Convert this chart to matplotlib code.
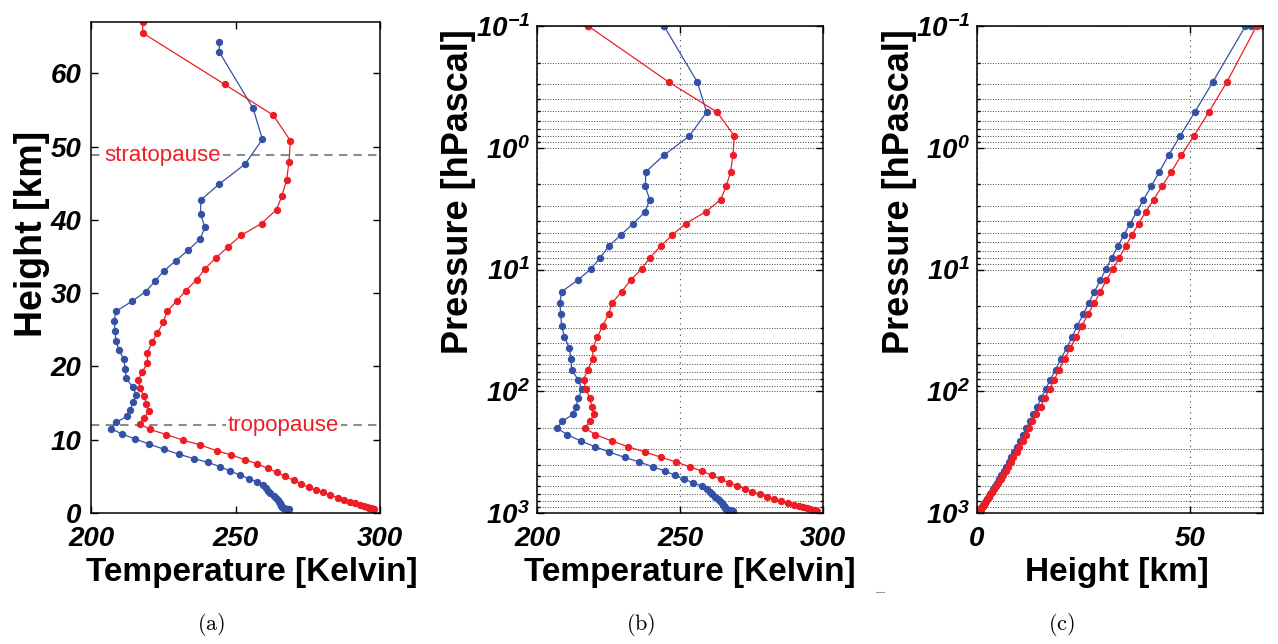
import matplotlib
matplotlib.use('Agg')
import matplotlib.pyplot as plt
from matplotlib.ticker import FixedLocator, FixedFormatter, NullFormatter

plt.rcParams['font.family'] = ['Liberation Sans', 'DejaVu Sans']
plt.rcParams['axes.unicode_minus'] = False
plt.rcParams['mathtext.default'] = 'regular'

# ---------------- data ----------------
pressure_hpa = [0.1, 0.1, 0.29, 0.51, 0.80, 1.15, 1.58, 2.08, 2.67, 3.36, 4.19, 5.20, 6.44, 7.98, 9.89,
                12.26, 15.19, 18.81, 23.31, 28.88, 35.78, 44.33, 54.62, 66.62, 80.36, 95.71,
                113, 134, 155, 177, 201, 227, 256, 285, 315, 349, 381, 417, 452, 490, 529, 564, 600,
                631, 668, 702, 734, 771, 801, 832, 858, 880, 898, 913, 926, 936, 944, 950, 954, 957, 959]

red_temp_k = [217.9, 217.9, 246.2, 263.0, 269.0, 268.5, 267.7, 266.1, 264.2, 259.0, 252.0, 247.3, 243.2,
              239.5, 236.6, 232.7, 229.6, 226.3, 225.0, 223.0, 221.1, 219.5, 219.5, 217.7, 216.3, 217.0,
              218.4, 219.2, 219.9, 218.5, 216.8, 220.4, 226.1, 231.8, 237.7, 243.5, 248.6, 253.4, 257.6,
              261.1, 264.3, 267.3, 270.1, 272.7, 275.3, 277.8, 280.3, 282.8, 285.3, 287.6, 289.7, 291.5,
              293.1, 294.4, 295.4, 296.2, 296.8, 297.2, 297.5, 297.7, 297.9]

red_height_km = [67.0, 65.5, 58.5, 54.3, 50.8, 47.9, 45.5, 43.3, 41.4, 39.5, 37.9, 36.3, 34.8, 33.35,
                 31.85, 30.3, 28.9, 27.5, 26.0, 24.6, 23.3, 21.8, 20.5, 19.2, 18.1, 17.0, 15.9, 14.9,
                 13.9, 13.0, 12.2, 11.4, 10.7, 9.95, 9.3, 8.5, 7.9, 7.25, 6.7, 6.1, 5.55, 5.0, 4.45,
                 4.0, 3.5, 3.15, 2.8, 2.45, 2.1, 1.8, 1.55, 1.33, 1.14, 0.98, 0.85, 0.75, 0.67, 0.61,
                 0.56, 0.52, 0.49]

blue_temp_k = [244.4, 244.4, 256.1, 259.3, 253.3, 244.4, 238.0, 237.9, 239.4, 237.8, 233.7, 229.3, 225.1,
               222.1, 218.9, 214.2, 208.6, 208.0, 208.3, 208.6, 209.6, 211.3, 211.9, 212.1, 214.4, 215.7,
               214.5, 213.6, 212.5, 208.8, 207.0, 210.6, 215.3, 220.2, 225.2, 230.6, 235.8, 240.5, 244.8,
               248.2, 251.5, 254.6, 257.6, 259.6, 260.5, 261.3, 262.1, 263.2, 264.0, 264.7, 265.1, 265.4,
               265.6, 265.8, 266.1, 266.5, 266.9, 267.4, 267.8, 268.2, 268.6]

blue_height_km = [64.3, 62.9, 55.2, 51.0, 47.6, 44.9, 42.7, 40.8, 39.0, 37.4, 35.9, 34.4, 33.0, 31.6,
                  30.2, 28.9, 27.5, 26.2, 24.9, 23.5, 22.3, 21.0, 19.6, 18.4, 17.2, 16.1, 15.1, 14.1,
                  13.2, 12.4, 11.5, 10.8, 10.1, 9.4, 8.7, 8.0, 7.4, 6.9, 6.3, 5.7, 5.2, 4.7, 4.2,
                  3.8, 3.4, 3.05, 2.7, 2.35, 2.05, 1.75, 1.5, 1.3, 1.12, 0.97, 0.85, 0.75, 0.67, 0.61,
                  0.57, 0.54, 0.52]

stratopause_km = 48.8
tropopause_km = 11.95

temp_ticks = [200, 250, 300]
height_ticks = [0, 10, 20, 30, 40, 50, 60]
pres_ticks = [0.1, 1, 10, 100, 1000]
pres_ticklabels = [r'$10^{-1}$', r'$10^{0}$', r'$10^{1}$', r'$10^{2}$', r'$10^{3}$']
hgt_ticks_c = [0, 50]

# ---------------- style ----------------
RED = '#ee1d25'
BLUE = '#3451a6'
W, H = 1278, 644
fig = plt.figure(figsize=(W / 100, H / 100), dpi=100)


def rect(l, r, t, b):
    return [l / W, 1 - b / H, (r - l) / W, (b - t) / H]


lab_fp = dict(fontsize=24, fontweight='bold')
mk = dict(marker='o', markersize=5.3, linewidth=0.9, markeredgewidth=0)


def style(ax, ypad=5):
    ax.tick_params(which='both', direction='in', top=True, right=True, width=1.0)
    ax.tick_params(which='major', length=5)
    ax.tick_params(which='minor', length=2.5)
    ax.tick_params(axis='x', which='major', pad=9)
    ax.tick_params(axis='y', which='major', pad=ypad)
    for s in ax.spines.values():
        s.set_linewidth(1.1)
    for lab in ax.get_xticklabels() + ax.get_yticklabels():
        lab.set_fontsize(20)
        lab.set_fontweight('bold')
        lab.set_fontstyle('italic')


# ---------------- panel (a) ----------------
axa = fig.add_axes(rect(91, 380, 22, 513))
axa.plot(blue_temp_k, blue_height_km, color=BLUE, **mk)
axa.plot(red_temp_k, red_height_km, color=RED, **mk)
axa.set_xlim(200, 300)
axa.set_ylim(0, max(red_height_km))
axa.set_xticks(temp_ticks)
axa.set_yticks(height_ticks)
axa.axhline(stratopause_km, color='0.55', linestyle=(0, (4, 3)), linewidth=1.5, zorder=1)
axa.axhline(tropopause_km, color='0.55', linestyle=(0, (4, 3)), linewidth=1.5, zorder=1)
axa.text(204.6, stratopause_km, 'stratopause', color=RED, fontsize=16, ha='left', va='center',
         bbox=dict(facecolor='white', edgecolor='none', pad=1.5), zorder=2)
axa.text(247.3, tropopause_km, 'tropopause', color=RED, fontsize=16, ha='left', va='center',
         bbox=dict(facecolor='white', edgecolor='none', pad=1.5), zorder=2)
style(axa, ypad=7)

# ---------------- panel (b) ----------------
axb = fig.add_axes(rect(537, 823, 26, 513))
axb.plot(blue_temp_k, pressure_hpa, color=BLUE, **mk)
axb.plot(red_temp_k, pressure_hpa, color=RED, **mk)
axb.set_yscale('log')
axb.set_xlim(200, 300)
axb.set_ylim(1000, 0.1)
axb.set_xticks(temp_ticks)

# ---------------- panel (c) ----------------
axc = fig.add_axes(rect(977, 1263, 26, 513))
axc.plot(blue_height_km, pressure_hpa, color=BLUE, **mk)
axc.plot(red_height_km, pressure_hpa, color=RED, **mk)
axc.set_yscale('log')
axc.set_xlim(0, max(red_height_km))
axc.set_ylim(1000, 0.1)
axc.set_xticks(hgt_ticks_c)

for ax in (axb, axc):
    ax.yaxis.set_major_locator(FixedLocator(pres_ticks))
    ax.yaxis.set_major_formatter(FixedFormatter(pres_ticklabels))
    minors = [m * 10.0 ** e for e in range(-1, 3) for m in range(2, 10)]
    ax.yaxis.set_minor_locator(FixedLocator(minors))
    ax.yaxis.set_minor_formatter(NullFormatter())
    ax.grid(True, axis='y', which='both', linestyle=':', color='0.25', linewidth=0.7)
    ax.grid(True, axis='x', which='major', linestyle=(0, (1, 4)), color='0.25', linewidth=0.8)
    ax.set_axisbelow(True)
    style(ax)

# ---------------- labels ----------------
fig.text(252 / W, 1 - 572 / H, 'Temperature [Kelvin]', ha='center', va='center', **lab_fp)
fig.text(690 / W, 1 - 572 / H, 'Temperature [Kelvin]', ha='center', va='center', **lab_fp)
fig.text(1117 / W, 1 - 572 / H, 'Height [km]', ha='center', va='center', **lab_fp)
fig.text(32 / W, 1 - 234 / H, 'Height [km]', rotation=90, ha='center', va='center',
         fontsize=27, fontweight='bold')
fig.text(458 / W, 1 - 192 / H, 'Pressure [hPascal]', rotation=90, ha='center', va='center',
         fontsize=26, fontweight='bold')
fig.text(900 / W, 1 - 192 / H, 'Pressure [hPascal]', rotation=90, ha='center', va='center',
         fontsize=26, fontweight='bold')

for xp, s in ((211, '(a)'), (641, '(b)'), (1061, '(c)')):
    fig.text(xp / W, 1 - 625 / H, r'$\mathrm{' + s + '}$', ha='center', va='center',
             fontsize=16, math_fontfamily='cm')

fig.add_artist(plt.Line2D([876 / W, 884 / W], [1 - 592 / H, 1 - 592 / H], color='0.6', linewidth=0.8))

fig.savefig('out.png', dpi=100)
